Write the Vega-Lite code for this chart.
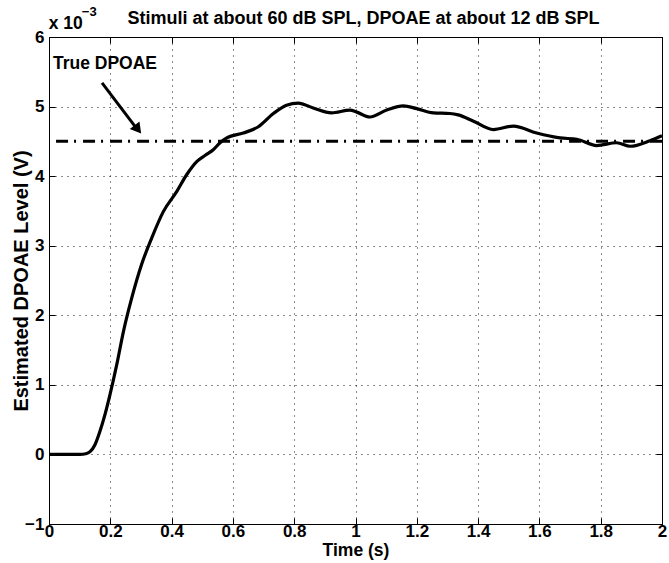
{
  "$schema": "https://vega.github.io/schema/vega-lite/v6.json",
  "width": 613,
  "height": 487,
  "autosize": {"type": "none"},
  "padding": {"left": 49, "top": 37, "right": 7, "bottom": 39},
  "background": "white",
  "config": {
    "view": {"stroke": "black", "strokeWidth": 1},
    "font": "Liberation Sans",
    "axis": {
      "labelFont": "Liberation Sans",
      "labelFontSize": 17,
      "labelFontWeight": "bold",
      "labelColor": "black",
      "titleFont": "Liberation Sans",
      "titleFontSize": 17.5,
      "titleFontWeight": "bold",
      "titleColor": "black",
      "domainColor": "black",
      "tickColor": "black",
      "tickSize": -6,
      "grid": true,
      "gridColor": "black",
      "gridDash": [1, 5],
      "gridOpacity": 0.9,
      "format": "~g"
    }
  },
  "datasets": {
    "curve": [
      {"t": 0.0, "v": 0.0}, {"t": 0.05, "v": 0.0}, {"t": 0.101, "v": 0.0},
      {"t": 0.12, "v": 0.01}, {"t": 0.134, "v": 0.04}, {"t": 0.15, "v": 0.14},
      {"t": 0.166, "v": 0.33}, {"t": 0.183, "v": 0.58}, {"t": 0.199, "v": 0.86},
      {"t": 0.221, "v": 1.29}, {"t": 0.243, "v": 1.77}, {"t": 0.27, "v": 2.25},
      {"t": 0.302, "v": 2.73}, {"t": 0.335, "v": 3.11}, {"t": 0.373, "v": 3.49},
      {"t": 0.417, "v": 3.78}, {"t": 0.449, "v": 4.02}, {"t": 0.482, "v": 4.21},
      {"t": 0.51, "v": 4.3}, {"t": 0.536, "v": 4.38}, {"t": 0.558, "v": 4.48},
      {"t": 0.58, "v": 4.55}, {"t": 0.634, "v": 4.62}, {"t": 0.683, "v": 4.71},
      {"t": 0.732, "v": 4.9}, {"t": 0.775, "v": 5.02}, {"t": 0.813, "v": 5.05},
      {"t": 0.862, "v": 4.98}, {"t": 0.922, "v": 4.91}, {"t": 0.982, "v": 4.95},
      {"t": 1.004, "v": 4.92}, {"t": 1.047, "v": 4.85}, {"t": 1.102, "v": 4.95},
      {"t": 1.156, "v": 5.01}, {"t": 1.2, "v": 4.97}, {"t": 1.254, "v": 4.91},
      {"t": 1.308, "v": 4.9}, {"t": 1.335, "v": 4.88}, {"t": 1.385, "v": 4.79},
      {"t": 1.45, "v": 4.67}, {"t": 1.515, "v": 4.72}, {"t": 1.591, "v": 4.62},
      {"t": 1.667, "v": 4.55}, {"t": 1.722, "v": 4.53}, {"t": 1.787, "v": 4.44},
      {"t": 1.852, "v": 4.48}, {"t": 1.896, "v": 4.43}, {"t": 1.961, "v": 4.51},
      {"t": 2.0, "v": 4.58}
    ],
    "truth": [{"t": 0.023, "t2": 2.0, "v": 4.5}],
    "arrow": [{"t": 0.173, "v": 5.34, "t2": 0.285, "v2": 4.69}],
    "head": [{"t": 0.29, "v": 4.672}],
    "labels": [{"t": 0.013, "v": 5.61, "text": "True DPOAE"}],
    "title": [{"t": 1.026, "v": 6.187, "text": "Stimuli at about 60 dB SPL, DPOAE at about 12 dB SPL"}],
    "exp": [{"t": -0.001, "v": 6.12, "text": "x 10"}],
    "exp2": [{"t": 0.107, "v": 6.3, "text": "−3"}]
  },
  "resolve": {"axis": {"x": "independent", "y": "independent"}},
  "layer": [
    {
      "data": {"name": "curve"},
      "mark": {"type": "line", "color": "black", "strokeWidth": 3.2, "interpolate": "monotone"},
      "encoding": {
        "x": {"field": "t", "type": "quantitative", "scale": {"domain": [0, 2], "nice": false},
              "axis": {"orient": "bottom", "values": [0, 0.2, 0.4, 0.6, 0.8, 1, 1.2, 1.4, 1.6, 1.8, 2], "title": "Time (s)", "labelPadding": 5, "titlePadding": 2, "labelFlush": false}},
        "y": {"field": "v", "type": "quantitative", "scale": {"domain": [-1, 6], "nice": false},
              "axis": {"orient": "left", "values": [-1, 0, 1, 2, 3, 4, 5, 6], "title": "Estimated DPOAE Level (V)", "titleFontSize": 20, "labelPadding": 11, "titlePadding": -7}}
      }
    },
    {
      "data": {"name": "truth"},
      "mark": {"type": "rule", "color": "black", "strokeWidth": 3, "strokeDash": [12, 6, 2, 7]},
      "encoding": {
        "x": {"field": "t", "type": "quantitative", "scale": {"domain": [0, 2], "nice": false},
              "axis": {"orient": "top", "values": [0, 0.2, 0.4, 0.6, 0.8, 1, 1.2, 1.4, 1.6, 1.8, 2], "labels": false, "title": null, "grid": false}},
        "x2": {"field": "t2"},
        "y": {"field": "v", "type": "quantitative", "scale": {"domain": [-1, 6], "nice": false},
              "axis": {"orient": "right", "values": [-1, 0, 1, 2, 3, 4, 5, 6], "labels": false, "title": null, "grid": false}}
      }
    },
    {
      "data": {"name": "arrow"},
      "mark": {"type": "rule", "color": "black", "strokeWidth": 3},
      "encoding": {
        "x": {"field": "t", "type": "quantitative", "axis": null},
        "y": {"field": "v", "type": "quantitative", "axis": null},
        "x2": {"field": "t2"},
        "y2": {"field": "v2"}
      }
    },
    {
      "data": {"name": "head"},
      "mark": {"type": "point", "shape": "triangle-up", "filled": true, "color": "black", "opacity": 1, "size": 150, "angle": 142},
      "encoding": {
        "x": {"field": "t", "type": "quantitative", "axis": null},
        "y": {"field": "v", "type": "quantitative", "axis": null}
      }
    },
    {
      "data": {"name": "labels"},
      "mark": {"type": "text", "align": "left", "baseline": "middle", "font": "Liberation Sans", "fontSize": 17.5, "fontWeight": "bold", "color": "black"},
      "encoding": {
        "x": {"field": "t", "type": "quantitative", "axis": null},
        "y": {"field": "v", "type": "quantitative", "axis": null},
        "text": {"field": "text"}
      }
    },
    {
      "data": {"name": "title"},
      "mark": {"type": "text", "align": "center", "baseline": "alphabetic", "font": "Liberation Sans", "fontSize": 18, "fontWeight": "bold", "color": "black"},
      "encoding": {
        "x": {"field": "t", "type": "quantitative", "axis": null},
        "y": {"field": "v", "type": "quantitative", "axis": null},
        "text": {"field": "text"}
      }
    },
    {
      "data": {"name": "exp"},
      "mark": {"type": "text", "align": "left", "baseline": "alphabetic", "font": "Liberation Sans", "fontSize": 17.5, "fontWeight": "bold", "color": "black"},
      "encoding": {
        "x": {"field": "t", "type": "quantitative", "axis": null},
        "y": {"field": "v", "type": "quantitative", "axis": null},
        "text": {"field": "text"}
      }
    },
    {
      "data": {"name": "exp2"},
      "mark": {"type": "text", "align": "left", "baseline": "alphabetic", "font": "Liberation Sans", "fontSize": 13, "fontWeight": "bold", "color": "black"},
      "encoding": {
        "x": {"field": "t", "type": "quantitative", "axis": null},
        "y": {"field": "v", "type": "quantitative", "axis": null},
        "text": {"field": "text"}
      }
    }
  ]
}
